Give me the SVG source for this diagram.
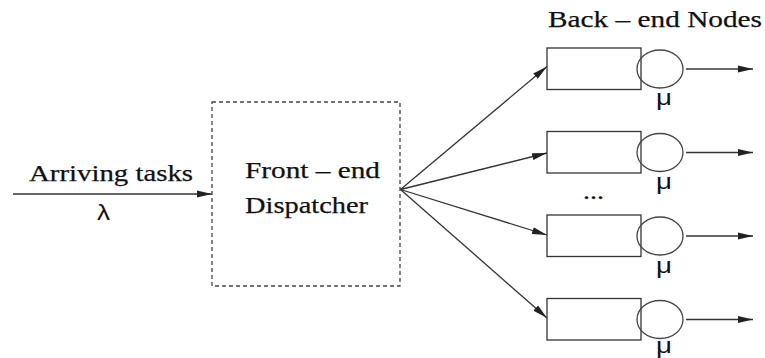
<svg xmlns="http://www.w3.org/2000/svg" width="765" height="358" viewBox="0 0 765 358">
<style>
.serif{font-family:"Liberation Serif","Times New Roman",serif;font-size:24px;fill:#111;stroke:#111;stroke-width:0.25}
.sans{font-family:"Liberation Sans",Arial,sans-serif;font-size:22px;fill:#111}
.line{stroke:#333;stroke-width:1.3;fill:none}
.box{stroke:#333;stroke-width:1.3;fill:#fff}
.srv{stroke:#444;stroke-width:1.3;fill:none}
.dash{stroke:#444;stroke-width:1.3;fill:none;stroke-dasharray:4 3}
</style>
<defs>
<marker id="arr" markerUnits="userSpaceOnUse" markerWidth="15" markerHeight="8" refX="15" refY="4" orient="auto">
<path d="M0,0.5 L15,4 L0,7.5 z" fill="#222"/>
</marker>
</defs>
<rect width="765" height="358" fill="#fff"/>
<g id="connectors">
<line class="line" x1="13" y1="194" x2="212" y2="194" marker-end="url(#arr)"/>
<line class="line" x1="400.5" y1="189.5" x2="547" y2="66.5" marker-end="url(#arr)"/>
<line class="line" x1="400.5" y1="189.5" x2="547" y2="153" marker-end="url(#arr)"/>
<line class="line" x1="400.5" y1="189.5" x2="547" y2="235" marker-end="url(#arr)"/>
<line class="line" x1="400.5" y1="189.5" x2="547" y2="318" marker-end="url(#arr)"/>
<line class="line" x1="686" y1="69" x2="753" y2="69" marker-end="url(#arr)"/>
<line class="line" x1="686" y1="152.5" x2="753" y2="152.5" marker-end="url(#arr)"/>
<line class="line" x1="686" y1="236" x2="753" y2="236" marker-end="url(#arr)"/>
<line class="line" x1="686" y1="319.5" x2="753" y2="319.5" marker-end="url(#arr)"/>
</g>
<g id="input-label">
<text class="serif" x="29" y="181" textLength="164" lengthAdjust="spacingAndGlyphs">Arriving tasks</text>
<text class="sans" x="97" y="220" font-size="21" textLength="13" lengthAdjust="spacingAndGlyphs">λ</text>
</g>
<g id="dispatcher">
<rect class="dash" x="212" y="102" width="188" height="184"/>
<text class="serif" x="245" y="178" textLength="135" lengthAdjust="spacingAndGlyphs">Front – end</text>
<text class="serif" x="245" y="213" textLength="123" lengthAdjust="spacingAndGlyphs">Dispatcher</text>
</g>
<text class="serif" x="548" y="27" textLength="214" lengthAdjust="spacingAndGlyphs" font-size="25">Back – end Nodes</text>
<g id="node1">
<rect class="box" x="547" y="48" width="94" height="41.5"/>
<ellipse class="srv" cx="660" cy="69" rx="23" ry="19"/>
<text class="sans" x="656" y="105" textLength="16" lengthAdjust="spacingAndGlyphs">μ</text>
</g>
<g id="node2">
<rect class="box" x="547" y="131.5" width="94" height="41.5"/>
<ellipse class="srv" cx="660" cy="152.5" rx="23" ry="19"/>
<text class="sans" x="656" y="189" textLength="16" lengthAdjust="spacingAndGlyphs">μ</text>
</g>
<text class="serif" x="583" y="199" textLength="21" lengthAdjust="spacingAndGlyphs">...</text>
<g id="node3">
<rect class="box" x="547" y="215" width="94" height="41.5"/>
<ellipse class="srv" cx="660" cy="236" rx="23" ry="19"/>
<text class="sans" x="656" y="273" textLength="16" lengthAdjust="spacingAndGlyphs">μ</text>
</g>
<g id="node4">
<rect class="box" x="547" y="298.5" width="94" height="41.5"/>
<ellipse class="srv" cx="660" cy="319.5" rx="23" ry="19"/>
<text class="sans" x="656" y="353" textLength="16" lengthAdjust="spacingAndGlyphs">μ</text>
</g>
</svg>
